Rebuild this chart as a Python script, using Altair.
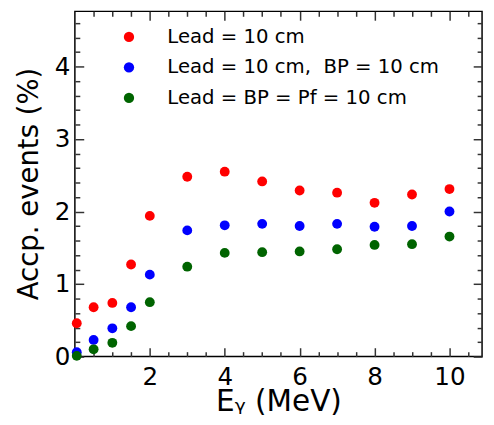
import altair as alt
import pandas as pd

# ---- data ----
energy = [0.05, 0.5, 1, 1.5, 2, 3, 4, 5, 6, 7, 8, 9, 10]
lead = [0.46, 0.68, 0.74, 1.27, 1.94, 2.48, 2.55, 2.415, 2.29, 2.26, 2.12, 2.235, 2.31]
lead_bp = [0.06, 0.23, 0.39, 0.68, 1.13, 1.74, 1.81, 1.83, 1.80, 1.83, 1.79, 1.80, 2.00]
lead_bp_pf = [0.01, 0.10, 0.19, 0.42, 0.75, 1.24, 1.43, 1.44, 1.45, 1.48, 1.54, 1.55, 1.655]
series_names = ["Lead = 10 cm", "Lead = 10 cm,\u00a0 BP = 10 cm", "Lead = BP = Pf = 10 cm"]
colors = ["#ff0000", "#0000ff", "#006400"]

x_major = [2, 4, 6, 8, 10]
x_minor = [0.5, 1, 1.5, 2.5, 3, 3.5, 4.5, 5, 5.5, 6.5, 7, 7.5, 8.5, 9, 9.5, 10.5]
y_major = [0, 1, 2, 3, 4]
y_minor = [0.2, 0.4, 0.6, 0.8, 1.2, 1.4, 1.6, 1.8, 2.2, 2.4, 2.6, 2.8,
           3.2, 3.4, 3.6, 3.8, 4.2, 4.4, 4.6]

rows = []
for name, vals in zip(series_names, [lead, lead_bp, lead_bp_pf]):
    for e, v in zip(energy, vals):
        rows.append({"series": name, "x": e, "y": v})
df = pd.DataFrame(rows)

FONT = "DejaVu Sans"
TICK_COLOR = "#333333"
xs = alt.Scale(domain=[0, 10.87], nice=False, zero=False)
ys = alt.Scale(domain=[0, 4.76], nice=False, zero=False)

# main layer: points, labels, titles, legend
main = alt.Chart(df).mark_circle(size=100, opacity=1).encode(
    x=alt.X("x:Q", scale=xs, axis=alt.Axis(
        orient="bottom", values=x_major, ticks=False, domain=False, grid=False,
        labelFont=FONT, labelFontSize=25, labelColor="black", labelPadding=8,
        title="E\u1d67 (MeV)", titleFont=FONT, titleFontSize=30, titleFontWeight="normal",
        titleColor="black", titleY=55, titleAlign="center",
        titleBaseline="alphabetic")),
    y=alt.Y("y:Q", scale=ys, axis=alt.Axis(
        orient="left", values=y_major, ticks=False, domain=False, grid=False,
        labelFont=FONT, labelFontSize=25, labelColor="black", labelPadding=5,
        title="Accp. events (%)", titleFont=FONT, titleFontSize=28,
        titleFontWeight="normal", titleColor="black", titleX=-38, titleY=175,
        titleAlign="center", titleBaseline="alphabetic", titleAngle=270)),
    color=alt.Color("series:N", scale=alt.Scale(domain=series_names, range=colors),
                    legend=alt.Legend(orient="none", legendX=45, legendY=16, title=None,
                                      labelFont=FONT, labelFontSize=20, labelColor="black",
                                      labelLimit=500,
                                      symbolSize=110, symbolType="circle",
                                      symbolStrokeWidth=0, labelOffset=29, rowPadding=11,
                                      padding=0, symbolOpacity=1)),
)


def tick_layer(xorient, yorient, xvals, yvals, size):
    return alt.Chart(df).mark_point(opacity=0).encode(
        x=alt.X("x:Q", scale=xs, title=None, axis=alt.Axis(
            orient=xorient, values=xvals, labels=False, domain=False, grid=False,
            tickSize=size, offset=-size, tickColor=TICK_COLOR, tickWidth=1.5)),
        y=alt.Y("y:Q", scale=ys, title=None, axis=alt.Axis(
            orient=yorient, values=yvals, labels=False, domain=False, grid=False,
            tickSize=size, offset=-size, tickColor=TICK_COLOR, tickWidth=1.5)),
    )


chart = alt.layer(
    main,
    tick_layer("bottom", "left", x_major, y_major, 9),
    tick_layer("bottom", "left", x_minor, y_minor, 5),
    tick_layer("top", "right", x_major, y_major, 9),
    tick_layer("top", "right", x_minor, y_minor, 5),
).resolve_axis(x="independent", y="independent").properties(
    width=414, height=351,
    padding={"left": 68, "top": 0, "right": 4, "bottom": 58},
    autosize=alt.AutoSizeParams(type="none"),
).configure_view(stroke="black", strokeWidth=1.5)

chart.save("out.html", embed_options={"renderer": "svg", "actions": False})
